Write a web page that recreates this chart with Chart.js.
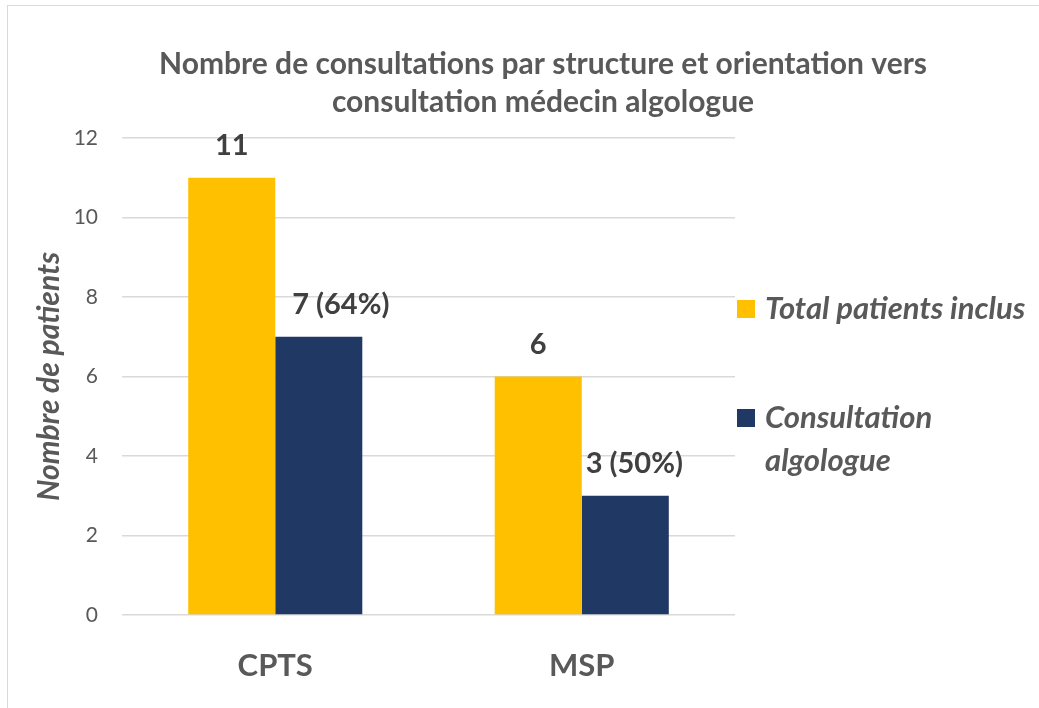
<!DOCTYPE html>
<html lang="fr">
<head>
  <meta charset="UTF-8">
  <title>Nombre de consultations par structure</title>
  <script src="https://cdn.jsdelivr.net/npm/chart.js"></script>
  <style>
    html, body {
      margin: 0;
      height: 100%;
      overflow: hidden;
      background: white;
    }
    .frame {
      position: absolute;
      left: 7px;
      top: 5px;
      border-left: 1px solid #d9d9d9;
      border-top: 1px solid #d9d9d9;
    }
    canvas { display: block; }
  </style>
</head>
<body>
  <div class="frame">
    <canvas id="chart" width="1070" height="702"></canvas>
  </div>

  <script>
    const categories = ['CPTS', 'MSP'];
    const totalPatients = [11, 6];
    const consultAlgo = [7, 3];
    const totalLabels = ['11', '6'];
    const algoLabels = ['7 (64%)', '3 (50%)'];
    const seriesNames = ['Total patients inclus', ['Consultation', 'algologue']];

    const grey = '#595959';
    const font = 'Lato, "Open Sans", sans-serif';

    // value labels above the bars (the percentage ones sit a bit to the right, as in the original)
    const barLabels = {
      id: 'barLabels',
      afterDatasetsDraw(chart) {
        const c = chart.ctx;
        const texts = [totalLabels, algoLabels];
        const shiftX = [[0, 0], [22, 9]];
        c.save();
        c.font = 'bold 29px ' + font;
        c.fillStyle = '#404040';
        c.textAlign = 'center';
        c.textBaseline = 'middle';
        chart.data.datasets.forEach((ds, i) => {
          chart.getDatasetMeta(i).data.forEach((bar, j) => {
            c.fillText(texts[i][j], bar.x + shiftX[i][j], bar.y - 32);
          });
        });
        c.restore();
      }
    };

    // legend on the right, with a wrapped second entry
    const sideLegend = {
      id: 'sideLegend',
      afterDraw(chart) {
        const c = chart.ctx;
        const x = chart.chartArea.right + 2;
        const rows = [302, 411];
        c.save();
        c.font = 'bold italic 31px ' + font;
        c.textBaseline = 'middle';
        chart.data.datasets.forEach((ds, i) => {
          c.fillStyle = ds.backgroundColor;
          c.fillRect(x, rows[i] - 8, 18, 18);
          c.fillStyle = grey;
          const lines = [].concat(seriesNames[i]);
          lines.forEach((t, k) => c.fillText(t, x + 28, rows[i] + 1 + k * 43));
        });
        c.restore();
      }
    };

    new Chart(document.getElementById('chart'), {
      type: 'bar',
      data: {
        labels: categories,
        datasets: [
          {
            label: 'Total patients inclus',
            data: totalPatients,
            backgroundColor: '#FFC000',
            categoryPercentage: 0.568,
            barPercentage: 1
          },
          {
            label: 'Consultation algologue',
            data: consultAlgo,
            backgroundColor: '#203864',
            categoryPercentage: 0.568,
            barPercentage: 1
          }
        ]
      },
      options: {
        responsive: false,
        animation: false,
        plugins: {
          legend: { display: false },
          tooltip: { enabled: false },
          title: {
            display: true,
            text: ['Nombre de consultations par structure et orientation vers', 'consultation médecin algologue'],
            color: grey,
            font: { family: font, size: 30, weight: 'bold', lineHeight: '38px' },
            padding: { top: 39, bottom: 17 }
          }
        },
        scales: {
          x: {
            grid: { display: false },
            border: { display: false },
            ticks: {
              color: grey,
              padding: 24,
              font: { family: font, size: 31, weight: 'bold', lineHeight: 1.2 }
            },
            afterFit(s) { s.height = 93; }
          },
          y: {
            min: 0,
            max: 12,
            ticks: {
              stepSize: 2,
              color: grey,
              padding: 24,
              font: { family: font, size: 21 }
            },
            grid: { color: '#d9d9d9', lineWidth: 1.5, drawTicks: false },
            border: { display: false },
            title: {
              display: true,
              text: 'Nombre de patients',
              color: grey,
              font: { family: font, size: 30, weight: 'bold', style: 'italic', lineHeight: 1.2 },
              padding: { top: 23 }
            },
            afterFit(s) { s.width = 114; }
          },
          // empty right-hand axis: keeps room for the legend while the title stays centred on the whole chart
          side: {
            position: 'right',
            grid: { display: false },
            border: { display: false },
            ticks: { display: false },
            afterFit(s) { s.width = 343; }
          }
        }
      },
      plugins: [barLabels, sideLegend]
    });
  </script>
</body>
</html>
